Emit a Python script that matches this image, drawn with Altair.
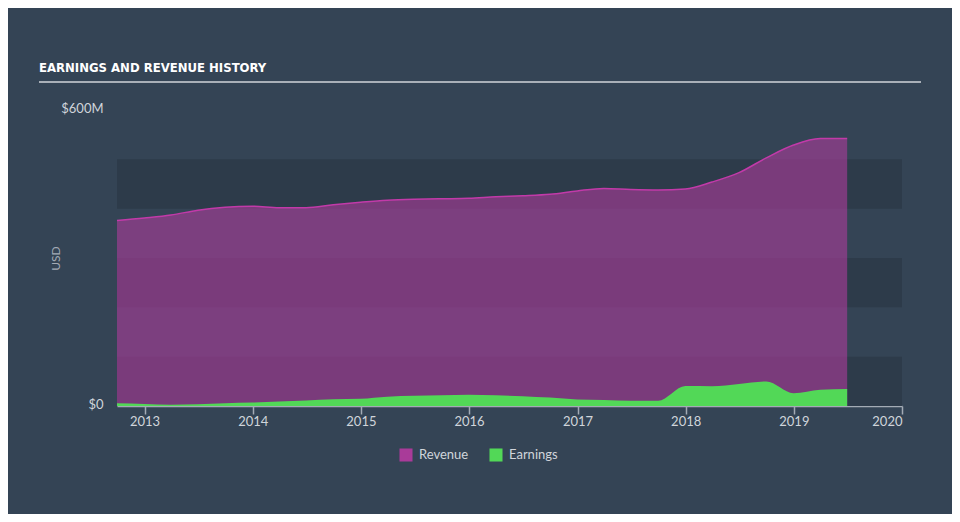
import altair as alt
import pandas as pd

# ---- data ----
dates = ["2012-09-30", "2012-12-31", "2013-03-31", "2013-06-30", "2013-09-30",
         "2013-12-31", "2014-03-31", "2014-06-30", "2014-09-30", "2014-12-31",
         "2015-03-31", "2015-06-30", "2015-09-30", "2015-12-31", "2016-03-31",
         "2016-06-30", "2016-09-30", "2016-12-31", "2017-03-31", "2017-06-30",
         "2017-09-30", "2017-12-31", "2018-03-31", "2018-06-30", "2018-09-30",
         "2018-12-31", "2019-03-31", "2019-06-30"]
revenue = [376, 381, 387, 397, 403, 405, 402, 402, 408, 413, 417, 419, 420, 421,
           424, 426, 429, 436, 441, 439, 438, 440, 454, 473, 503, 529, 542, 542]
earnings = [5.5, 4, 2.6, 3.4, 5.5, 7, 9, 11, 13.6, 14.8, 19, 20.7, 21.7, 23,
            21.7, 20, 17, 13, 12, 10.5, 10.5, 40.5, 40, 44.6, 49.7, 26, 33, 34.5]
series_names = ["Revenue", "Earnings"]
band_low = [0, 200, 400]
band_high = [100, 300, 500]
y_ticks = [0, 600]
year_ticks = [2013, 2014, 2015, 2016, 2017, 2018, 2019, 2020]
title_text = "EARNINGS AND REVENUE HISTORY"

# ---- styling ----
BG = "#344455"
BAND = "#2d3b4a"
REV_COLOR = "#a93b99"
REV_LINE = "#c23aa9"
EARN_COLOR = "#52d857"
AXIS_COLOR = "#a3abb5"
LABEL_COLOR = "#d0d5db"
FONT = "Lato"

W, H = 785, 296

rev_df = pd.DataFrame({"date": dates, "value": revenue, "series": "Revenue"})
earn_df = pd.DataFrame({"date": dates, "value": earnings, "series": "Earnings"})
band_df = pd.DataFrame({"lo": band_low, "hi": band_high})

x_axis = alt.Axis(
    values=[alt.DateTime(year=y, month=1, date=1) for y in year_ticks],
    format="%Y",
    title=None,
    grid=False,
    domainColor=AXIS_COLOR,
    domainWidth=1.5,
    tickColor=AXIS_COLOR,
    tickSize=8,
    tickWidth=1.5,
    labelPadding=1,
    labelFontSize=13,
    labelColor=LABEL_COLOR,
    labelFont=FONT,
)
x_scale = alt.Scale(domain=["2012-09-30", "2020-01-01"])

y_scale = alt.Scale(domain=[0, 600], nice=False)
y_axis = alt.Axis(
    values=y_ticks,
    labelExpr="datum.value == 0 ? '$0' : '$' + datum.value + 'M'",
    grid=False,
    domain=False,
    ticks=False,
    labelPadding=14,
    labelOffset=-2,
    labelFontSize=13,
    labelColor=LABEL_COLOR,
    labelFont=FONT,
    title="USD",
    titleX=-55,
    titleY=148,
    titleFontSize=12,
    titleFontWeight="normal",
    titleColor=AXIS_COLOR,
    titleFont=FONT,
)

color_enc = alt.Color(
    "series:N",
    scale=alt.Scale(domain=series_names, range=[REV_COLOR, EARN_COLOR]),
    legend=alt.Legend(
        title=None,
        orient="none",
        legendX=282,
        legendY=338,
        direction="horizontal",
        symbolType="square",
        symbolSize=170,
        symbolOpacity=1,
        symbolStrokeWidth=0,
        labelFontSize=13,
        labelColor=LABEL_COLOR,
        labelFont=FONT,
        labelOffset=6,
        columnPadding=20,
    ),
)

bands = alt.Chart(band_df).mark_rect(color=BAND).encode(
    x=alt.value(0),
    x2=alt.value(W),
    y=alt.Y("lo:Q", scale=y_scale, axis=y_axis),
    y2="hi:Q",
)

rev_area = alt.Chart(rev_df).mark_area(interpolate="monotone", fillOpacity=0.62).encode(
    x=alt.X("date:T", scale=x_scale, axis=x_axis),
    y=alt.Y("value:Q", scale=y_scale, axis=y_axis),
    color=color_enc,
)
rev_line = alt.Chart(rev_df).mark_line(interpolate="monotone", color=REV_LINE, strokeWidth=1.5).encode(
    x="date:T", y="value:Q"
)
earn_area = alt.Chart(earn_df).mark_area(interpolate="monotone", fillOpacity=1).encode(
    x="date:T", y="value:Q", color=color_enc
)

title_mark = alt.Chart(pd.DataFrame({"t": [title_text]})).mark_text(
    align="left", baseline="middle", font="DejaVu Sans Condensed", fontWeight="bold",
    fontSize=13, color="#ffffff"
).encode(text="t:N", x=alt.value(-78), y=alt.value(-42))

underline = alt.Chart(pd.DataFrame({"a": [0]})).mark_rule(
    color="#a9b0b8", strokeWidth=2
).encode(x=alt.value(-78), x2=alt.value(804), y=alt.value(-28))

chart = alt.layer(bands, rev_area, rev_line, earn_area, title_mark, underline).properties(
    width=W,
    height=H,
    background=BG,
    padding={"left": 109, "top": 102, "right": 50, "bottom": 108},
    autosize=alt.AutoSizeParams(type="none"),
).configure(font=FONT).configure_view(stroke="transparent", strokeWidth=0)

chart.save("out.html", embed_options={"renderer": "svg", "actions": False})
